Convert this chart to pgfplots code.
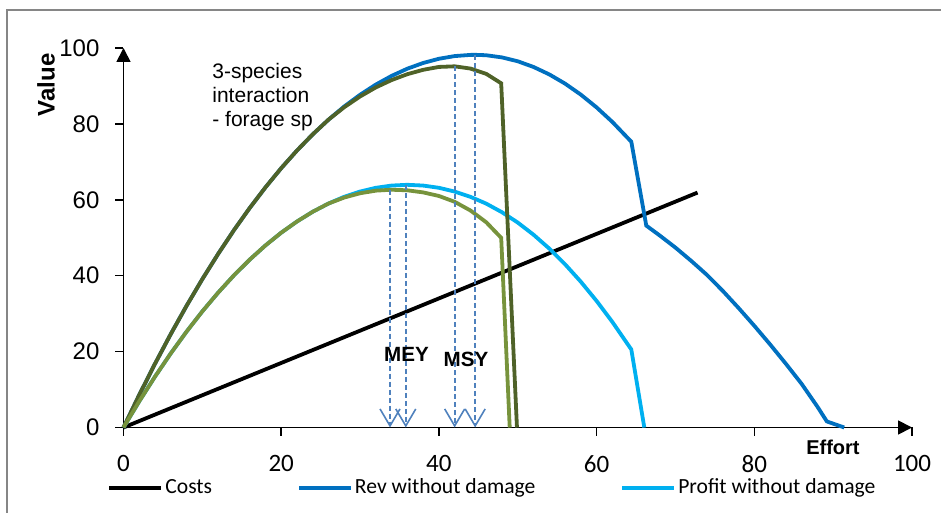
\documentclass[border=0pt]{standalone}
\usepackage{fontspec}
\setmainfont{Liberation Sans}
\newfontfamily\calibri{Carlito}
\usepackage{pgfplots}
\pgfplotsset{compat=1.18}
\usetikzlibrary{arrows.meta}
\definecolor{revblue}{RGB}{0,112,192}
\definecolor{profblue}{RGB}{0,176,240}
\definecolor{dkgreen}{RGB}{79,98,40}
\definecolor{ltgreen}{RGB}{119,147,60}
\definecolor{arrblue}{RGB}{79,129,189}
\definecolor{frame}{RGB}{134,134,134}
\begin{document}
\begin{tikzpicture}
\path[use as bounding box] (0pt,0pt) rectangle (470.5pt,256.5pt);
\draw[frame, line width=1pt] (3.5pt,0pt) -- (3.5pt,251.5pt) -- (471pt,251.5pt);
\begin{axis}[
  at={(61.75pt,42.75pt)}, anchor=south west,
  scale only axis, width=394.25pt, height=189.75pt,
  xmin=0, xmax=100, ymin=0, ymax=100,
  axis lines=left,
  axis line style={line width=0.9pt, -{Triangle[length=7pt,width=7pt]}},
  tick style={line width=0.8pt, black}, tick align=outside, major tick length=4pt,
  xtick={0,20,...,100}, ytick={0,20,...,100},
  clip=false,
  /pgf/number format/assume math mode=true,
  yticklabel style={font=\fontsize{12}{14}\selectfont, anchor=east, xshift=-4.5pt},
  xticklabel style={font=\calibri\fontsize{12.5}{14}\selectfont, anchor=north, yshift=-6.5pt},
  legend columns=3,
  legend style={draw=none, fill=none, at={(0.468,-0.1594)}, anchor=center,
    font=\calibri\fontsize{10.8}{12}\selectfont,
    nodes={inner xsep=1pt, inner ysep=1pt},
    /tikz/every even column/.append style={column sep=41.5pt}},
  legend image code/.code={\draw[#1] (0pt,0pt) -- (26pt,0pt);},
  every axis plot/.append style={line width=1.9pt},
]
% Costs
\addplot[black] coordinates {(0,0) (72.8,61.9)};
\addlegendentry{Costs}
% Revenue without damage
\addplot[revblue] coordinates {
(0,0) (2,8.60) (4,16.82) (6,24.64) (8,32.07) (10,39.10) (12,45.73) (14,51.98)
(16,57.82) (18,63.27) (20,68.33) (22,72.98) (24,77.25) (26,81.12) (28,84.60)
(30,87.67) (32,90.36) (34,92.65) (36,94.55) (38,96.05) (40,97.16) (42,97.87)
(44,98.18) (44.6,98.2) (46,98.09) (48,97.52) (50,96.50) (52,95.00) (54,93.04)
(56,90.61) (58,87.71) (60,84.34) (62,80.51) (64.4,75.30)
(66.3,53.2) (68,50.6) (70,47.4) (72,43.9) (74,40.2) (76,36.0) (78,31.5)
(80,26.8) (82,21.9) (84,16.8) (86,11.5) (88,5.5) (89.2,1.6) (91.4,0)};
\addlegendentry{Rev without damage}
% Profit without damage
\addplot[profblue] coordinates {
(0,0) (2,6.90) (4,13.42) (6,19.54) (8,25.27) (10,30.60) (12,35.53) (14,40.08)
(16,44.22) (18,47.97) (20,51.33) (22,54.28) (24,56.85) (26,59.02) (28,60.80)
(30,62.17) (32,63.16) (34,63.75) (36,63.95) (38,63.75) (40,63.16) (42,62.17)
(44,60.78) (46,58.99) (48,56.72) (50,54.00) (52,50.80) (54,47.14) (56,43.01)
(58,38.41) (60,33.34) (62,27.81) (64.4,20.56) (66.05,0)};
\addlegendentry{Profit without damage}
% Revenue with damage
\addplot[dkgreen, forget plot] coordinates {
(0,0) (2,8.60) (4,16.82) (6,24.64) (8,32.07) (10,39.10) (12,45.73) (14,51.98)
(16,57.82) (18,63.27) (20,68.33) (22,72.98) (24,77.25) (26,81.12) (28,84.40)
(30,87.22) (32,89.61) (34,91.55) (36,93.10) (38,94.25) (40,95.01) (42,95.17)
(44,94.58) (46,93.19) (47.9,90.7) (49.9,0)};
% Profit with damage
\addplot[ltgreen, forget plot] coordinates {
(0,0) (2,6.90) (4,13.42) (6,19.54) (8,25.27) (10,30.60) (12,35.53) (14,40.08)
(16,44.22) (18,47.97) (20,51.33) (22,54.28) (24,56.85) (26,59.02) (28,60.60)
(30,61.72) (32,62.41) (34,62.65) (36,62.50) (38,61.95) (40,61.01) (42,59.47)
(44,57.18) (46,54.09) (47.9,49.98) (48.98,0)};
% MEY / MSY arrows
\addplot[arrblue, forget plot, line width=1pt, dash pattern=on 2.5pt off 1.5pt,
  -{Straight Barb[length=8.5pt,width=10pt,line width=0.8pt]}] coordinates {(33.8,62.65) (33.8,0)};
\addplot[arrblue, forget plot, line width=1pt, dash pattern=on 2.5pt off 1.5pt,
  -{Straight Barb[length=8.5pt,width=10pt,line width=0.8pt]}] coordinates {(35.8,63.95) (35.8,0)};
\addplot[arrblue, forget plot, line width=1pt, dash pattern=on 2.5pt off 1.5pt,
  -{Straight Barb[length=8.5pt,width=10pt,line width=0.8pt]}] coordinates {(42.0,95.17) (42.0,0)};
\addplot[arrblue, forget plot, line width=1pt, dash pattern=on 2.5pt off 1.5pt,
  -{Straight Barb[length=8.5pt,width=10pt,line width=0.8pt]}] coordinates {(44.6,98.2) (44.6,0)};
\end{axis}
\node[rotate=90, font=\bfseries\fontsize{12}{14}\selectfont] at (23pt,214pt) {Value};
\node[anchor=east, inner sep=0pt, font=\bfseries\fontsize{10}{12}\selectfont] at (430pt,33pt) {Effort};
\node[anchor=north west, inner sep=0pt, align=left, font=\fontsize{10.5}{12}\selectfont] at (106pt,225pt) {3-species\\interaction\\- forage sp};
\node[font=\bfseries\fontsize{10.3}{12}\selectfont] at (203.25pt,79.5pt) {MEY};
\node[font=\bfseries\fontsize{10.3}{12}\selectfont] at (233pt,77pt) {MSY};
\end{tikzpicture}
\end{document}
